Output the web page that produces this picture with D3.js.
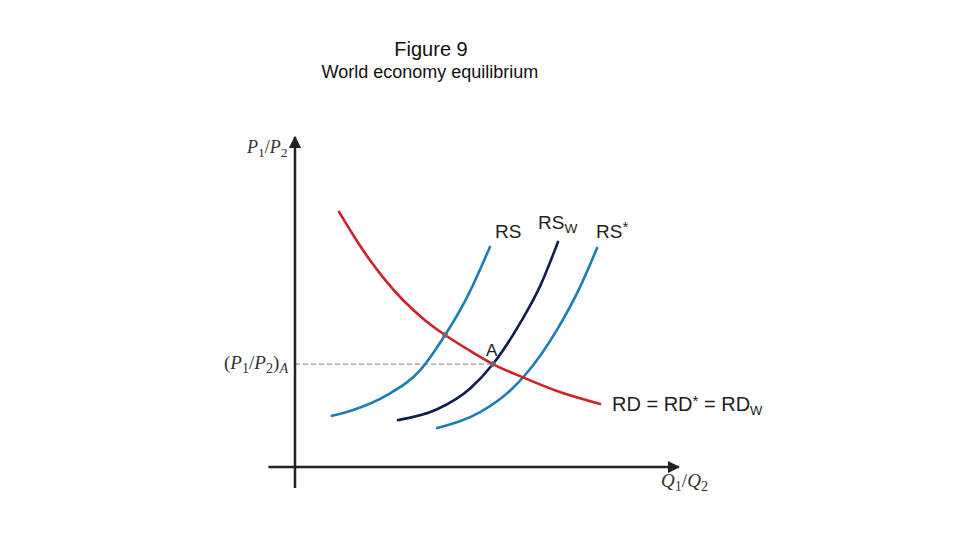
<!DOCTYPE html>
<html><head><meta charset="utf-8">
<script src="https://cdn.jsdelivr.net/npm/d3@7"></script>
<style>body{margin:0;background:#fff}svg{display:block}</style>
</head><body>
<svg id="c" width="960" height="540"></svg>
<script>
// Data (arbitrary units 0-100)
const rdCurve   = [[11.6,77.3],[15.8,69.4],[19.7,62.7],[23.7,56.7],[28.4,50.6],[34.2,44.5],[39.5,40.0],[46.1,35.2],[52.1,31.2],[59.7,27.3],[69.7,22.7],[80.3,19.1]];
const rsCurve   = [[9.7,15.5],[15.3,17.3],[24.2,21.8],[32.9,29.3],[39.5,40.0],[45.3,51.5],[51.3,66.7]];
const rswCurve  = [[27.1,14.2],[37.4,17.5],[46.1,23.8],[52.1,31.2],[59.7,44.5],[64.5,54.8],[69.2,68.2]];
const rsStarCurve = [[37.4,11.8],[48.7,16.6],[57.4,24.0],[60.5,27.8],[68.9,41.5],[75.0,54.5],[79.5,66.4]];
const equilibriumA = [52.1,31.2];
const autarkyPoint = [39.5,40.0];

const svg = d3.select("#c");
const x = d3.scaleLinear().domain([0,100]).range([295,675]);
const y = d3.scaleLinear().domain([0,100]).range([467,137]);

const sans = "Liberation Sans, Arial, sans-serif";
// Titles
svg.append("text").attr("x",431).attr("y",56).attr("text-anchor","middle")
  .attr("font-family",sans).attr("font-size",20).attr("fill","#111").text("Figure 9");
svg.append("text").attr("x",430).attr("y",78).attr("text-anchor","middle")
  .attr("font-family",sans).attr("font-size",18).attr("fill","#111").text("World economy equilibrium");

// Arrow marker
const defs = svg.append("defs");
defs.append("marker").attr("id","arr").attr("viewBox","0 0 10 10").attr("refX",9).attr("refY",5)
  .attr("markerWidth",5).attr("markerHeight",5).attr("markerUnits","strokeWidth").attr("orient","auto")
  .append("path").attr("d","M0,0 L10,5 L0,10 Z").attr("fill","#222");

// Dashed guide
svg.append("line").attr("x1",x(0)).attr("x2",x(equilibriumA[0])).attr("y1",y(equilibriumA[1])).attr("y2",y(equilibriumA[1]))
  .attr("stroke","#9a9a9a").attr("stroke-width",1.2).attr("stroke-dasharray","5,3");

// Axes
svg.append("line").attr("x1",x(0)).attr("x2",x(0)).attr("y1",y(-6.4)).attr("y2",y(100))
  .attr("stroke","#222").attr("stroke-width",2.5).attr("marker-end","url(#arr)");
svg.append("line").attr("x1",x(-7)).attr("x2",x(101)).attr("y1",y(0)).attr("y2",y(0))
  .attr("stroke","#222").attr("stroke-width",2.5).attr("marker-end","url(#arr)");

// Curves
const line = d3.line().x(d=>x(d[0])).y(d=>y(d[1])).curve(d3.curveMonotoneX);
const curves = [
  {data: rsCurve, color:"#1f7db5"},
  {data: rswCurve, color:"#0e1f4f"},
  {data: rsStarCurve, color:"#1f7db5"},
  {data: rdCurve, color:"#d0212b"}
];
curves.forEach(c=>{
  svg.append("path").attr("d",line(c.data)).attr("fill","none").attr("stroke",c.color)
    .attr("stroke-width",2.6).attr("stroke-linecap","round");
});

// intersection dots
[autarkyPoint, equilibriumA].forEach(p=>{
  svg.append("circle").attr("cx",x(p[0])).attr("cy",y(p[1])).attr("r",3).attr("fill","#6f7070").attr("opacity",0.8);
});

// Curve labels
function lab(xp, yp, main, sub, sup, size){
  const t = svg.append("text").attr("x",xp).attr("y",yp).attr("font-family",sans).attr("font-size",size).attr("fill","#222");
  t.append("tspan").text(main);
  if(sup) t.append("tspan").attr("dy",-6).attr("font-size",size*0.8).text(sup);
  if(sub) t.append("tspan").attr("dy",4).attr("font-size",size*0.72).text(sub);
  return t;
}
lab(495,238,"RS",null,null,19);
lab(538,229,"RS","W",null,19);
lab(596,238,"RS",null,"*",19);
svg.append("text").attr("x",486).attr("y",356).attr("font-family",sans).attr("font-size",17).attr("fill","#222").text("A");
const rdt = svg.append("text").attr("x",612).attr("y",411).attr("font-family",sans).attr("font-size",20).attr("fill","#222");
rdt.append("tspan").text("RD = RD");
rdt.append("tspan").attr("dy",-5).attr("font-size",15).text("*");
rdt.append("tspan").attr("dy",5).text(" = RD");
rdt.append("tspan").attr("dy",4).attr("font-size",13).text("W");

// Math axis labels
const serif = "Liberation Serif, DejaVu Serif, serif";
function mathLab(xp, yp, parts, size){
  const t = svg.append("text").attr("x",xp).attr("y",yp).attr("font-family",serif).attr("font-size",size).attr("fill","#333");
  let cur = 0;
  parts.forEach(p=>{
    const s = t.append("tspan").text(p.t);
    if(p.i) s.attr("font-style","italic");
    const target = p.sub ? 4 : 0;
    if(target!==cur){ s.attr("dy", target-cur); cur = target; }
    if(p.sub) s.attr("font-size",size*0.75);
  });
}
mathLab(247,153,[{t:"P",i:1},{t:"1",sub:1},{t:"/"},{t:"P",i:1},{t:"2",sub:1}],18);
mathLab(224,369,[{t:"("},{t:"P",i:1},{t:"1",sub:1},{t:"/"},{t:"P",i:1},{t:"2",sub:1},{t:")"},{t:"A",i:1,sub:1}],19);
mathLab(661,487,[{t:"Q",i:1},{t:"1",sub:1},{t:"/"},{t:"Q",i:1},{t:"2",sub:1}],19);
</script>
</body></html>
